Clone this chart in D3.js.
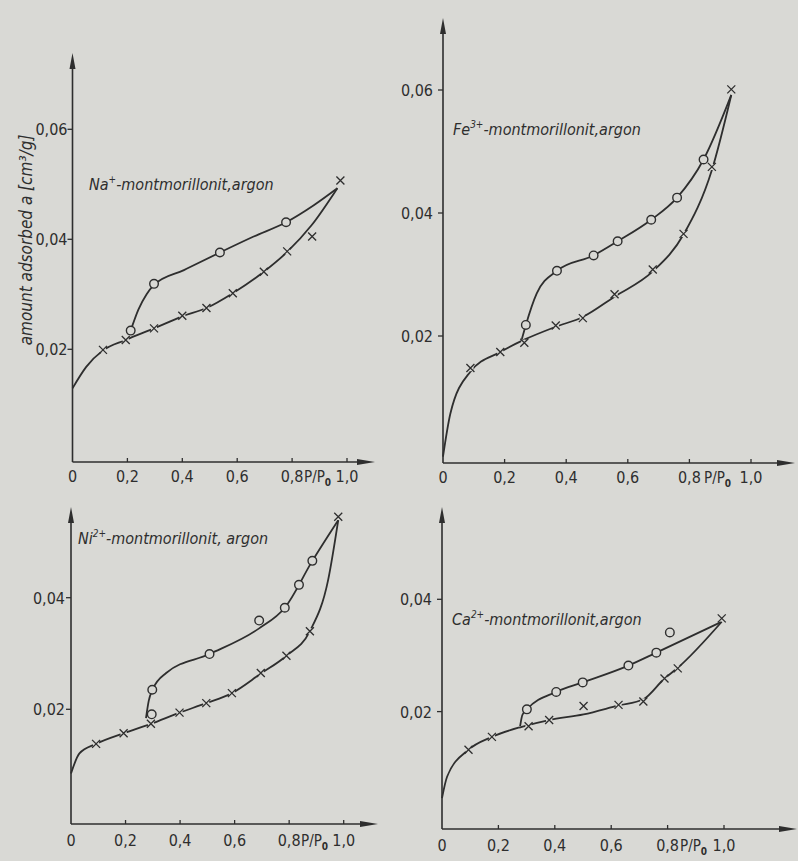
<!DOCTYPE html>
<html>
<head>
<meta charset="utf-8">
<script src="https://cdn.jsdelivr.net/npm/d3@7"></script>
<style>
  html, body { margin: 0; padding: 0; background: #d9d9d5; }
  svg { display: block; }
  text { font-family: "DejaVu Sans Condensed", "DejaVu Sans", sans-serif; fill: #2e2e2e; }
</style>
</head>
<body>
<script>
// ---------- data (P/P0, amount adsorbed a [cm3/g]) ----------
const xTicks = [0, 0.2, 0.4, 0.6, 0.8, 1.0];
const xTickLabels = ["0", "0,2", "0,4", "0,6", "0,8", "1,0"];
const yTicksTop = [0.02, 0.04, 0.06];
const yTicksBottom = [0.02, 0.04];
const yTickLabels = {0.02: "0,02", 0.04: "0,04", 0.06: "0,06"};
const yAxisTitle = "amount adsorbed a [cm³/g]";

// Na+ montmorillonite
const naIon = ["Na", "+", "-montmorillonit,argon"];
const naAdsMarkers = [[0.111,0.0199],[0.194,0.0217],[0.297,0.0238],[0.400,0.0261],[0.488,0.0275],[0.584,0.0302],[0.697,0.0341],[0.782,0.0378],[0.873,0.0405],[0.976,0.0507]];
const naDesMarkers = [[0.212,0.0234],[0.297,0.0319],[0.537,0.0376],[0.778,0.0431]];
const naAdsCurve = [[0,0.0129],[0.05,0.0168],[0.111,0.0198],[0.194,0.0217],[0.297,0.0238],[0.400,0.0260],[0.488,0.0275],[0.584,0.0302],[0.697,0.0341],[0.782,0.0377],[0.870,0.0425],[0.965,0.0493]];
const naDesCurve = [[0.212,0.0234],[0.240,0.0272],[0.270,0.0300],[0.297,0.0317],[0.406,0.0344],[0.537,0.0376],[0.660,0.0405],[0.778,0.0431],[0.879,0.0462],[0.965,0.0493]];

// Fe3+ montmorillonite
const feIon = ["Fe", "3+", "-montmorillonit,argon"];
const feAdsMarkers = [[0.089,0.0148],[0.186,0.0174],[0.264,0.0189],[0.366,0.0217],[0.454,0.0229],[0.557,0.0268],[0.681,0.0308],[0.781,0.0366],[0.873,0.0475],[0.936,0.0601]];
const feDesMarkers = [[0.269,0.0218],[0.370,0.0306],[0.489,0.0331],[0.567,0.0354],[0.676,0.0389],[0.760,0.0425],[0.846,0.0487]];
const feAdsCurve = [[0,0.0004],[0.024,0.0074],[0.089,0.0142],[0.186,0.0174],[0.264,0.0194],[0.366,0.0215],[0.454,0.0231],[0.557,0.0264],[0.681,0.0305],[0.781,0.0365],[0.873,0.0470],[0.936,0.0592]];
const feDesCurve = [[0.256,0.0195],[0.269,0.0218],[0.304,0.0269],[0.370,0.0306],[0.489,0.0331],[0.567,0.0354],[0.676,0.0389],[0.760,0.0425],[0.846,0.0487],[0.936,0.0592]];

// Ni2+ montmorillonite
const niIon = ["Ni", "2+", "-montmorillonit, argon"];
const niAdsMarkers = [[0.092,0.0138],[0.193,0.0157],[0.293,0.0174],[0.398,0.0194],[0.496,0.0211],[0.590,0.0229],[0.696,0.0265],[0.790,0.0296],[0.876,0.0340],[0.980,0.0545]];
const niDesMarkers = [[0.296,0.0191],[0.298,0.0235],[0.508,0.0299],[0.690,0.0359],[0.784,0.0382],[0.836,0.0423],[0.885,0.0466]];
const niAdsCurve = [[0,0.0085],[0.031,0.0121],[0.092,0.0138],[0.193,0.0157],[0.293,0.0174],[0.398,0.0194],[0.496,0.0211],[0.590,0.0229],[0.696,0.0264],[0.790,0.0296],[0.876,0.0340],[0.943,0.0432],[0.980,0.0539]];
const niDesCurve = [[0.275,0.0184],[0.285,0.0215],[0.300,0.0236],[0.349,0.0265],[0.508,0.0299],[0.690,0.0345],[0.784,0.0382],[0.885,0.0466],[0.980,0.0539]];

// Ca2+ montmorillonite
const caIon = ["Ca", "2+", "-montmorillonit,argon"];
const caAdsMarkers = [[0.094,0.0132],[0.177,0.0155],[0.307,0.0174],[0.380,0.0185],[0.502,0.0210],[0.626,0.0212],[0.714,0.0218],[0.789,0.0259],[0.836,0.0277],[0.992,0.0366]];
const caDesMarkers = [[0.301,0.0204],[0.405,0.0235],[0.499,0.0252],[0.661,0.0282],[0.760,0.0305],[0.808,0.0341]];
const caAdsCurve = [[0,0.0046],[0.018,0.0084],[0.094,0.0132],[0.177,0.0155],[0.283,0.0173],[0.380,0.0185],[0.502,0.0195],[0.626,0.0211],[0.714,0.0222],[0.789,0.0259],[0.836,0.0278],[0.992,0.0360]];
const caDesCurve = [[0.277,0.0174],[0.285,0.0194],[0.301,0.0204],[0.405,0.0235],[0.499,0.0252],[0.661,0.0282],[0.760,0.0305],[0.992,0.0360]];

// ---------- layout ----------
const W = 798, H = 861;
const INK = "#2e2e2e", BG = "#d9d9d5";

const panels = [
  { ion: naIon, ads: naAdsMarkers, des: naDesMarkers, adsC: naAdsCurve, desC: naDesCurve, yTicks: yTicksTop,
    x0: 72.5, x1: 347, yDom: [0, 0.06], yR: [459.3, 129.3], axisY: 462, yTop: 53, xEnd: 375,
    title: [89, 190], labelY: 482, ppX: 304, labGap: 5 },
  { ion: feIon, ads: feAdsMarkers, des: feDesMarkers, adsC: feAdsCurve, desC: feDesCurve, yTicks: yTicksTop,
    x0: 443, x1: 751, yDom: [0, 0.06], yR: [459, 90], axisY: 463, yTop: 18, xEnd: 795,
    title: [453, 135], labelY: 483, ppX: 704, labGap: 10 },
  { ion: niIon, ads: niAdsMarkers, des: niDesMarkers, adsC: niAdsCurve, desC: niDesCurve, yTicks: yTicksBottom,
    x0: 71, x1: 343.7, yDom: [0, 0.04], yR: [820.9, 597.7], axisY: 824, yTop: 507, xEnd: 378,
    title: [78, 544], labelY: 846, ppX: 301, labGap: 6 },
  { ion: caIon, ads: caAdsMarkers, des: caDesMarkers, adsC: caAdsCurve, desC: caDesCurve, yTicks: yTicksBottom,
    x0: 442, x1: 724, yDom: [0, 0.04], yR: [823.9, 599.3], axisY: 829, yTop: 507, xEnd: 797,
    title: [452, 625], labelY: 851, ppX: 680, labGap: 10 }
];

const svg = d3.select("body").append("svg").attr("width", W).attr("height", H);
svg.append("rect").attr("width", W).attr("height", H).attr("fill", BG);

panels.forEach(p => {
  const x = d3.scaleLinear().domain([0, 1]).range([p.x0, p.x1]);
  const y = d3.scaleLinear().domain(p.yDom).range(p.yR);
  const g = svg.append("g");

  // y axis with arrow
  g.append("line").attr("x1", p.x0).attr("x2", p.x0).attr("y1", p.axisY).attr("y2", p.yTop + 10)
    .attr("stroke", INK).attr("stroke-width", 1.6);
  g.append("path").attr("d", `M${p.x0},${p.yTop}L${p.x0 - 3},${p.yTop + 16}L${p.x0 + 3},${p.yTop + 16}Z`).attr("fill", INK);
  // x axis with arrow
  g.append("line").attr("x1", p.x0).attr("x2", p.xEnd - 10).attr("y1", p.axisY).attr("y2", p.axisY)
    .attr("stroke", INK).attr("stroke-width", 1.6);
  g.append("path").attr("d", `M${p.xEnd},${p.axisY}L${p.xEnd - 18},${p.axisY - 3}L${p.xEnd - 18},${p.axisY + 3}Z`).attr("fill", INK);

  // y ticks
  p.yTicks.forEach(t => {
    g.append("line").attr("x1", p.x0 - 5).attr("x2", p.x0).attr("y1", y(t)).attr("y2", y(t))
      .attr("stroke", INK).attr("stroke-width", 1.3);
    g.append("text").attr("x", p.x0 - p.labGap).attr("y", y(t) + 6).attr("text-anchor", "end")
      .attr("font-size", 16).text(yTickLabels[t]);
  });
  // x ticks
  xTicks.forEach((t, i) => {
    if (i > 0) g.append("line").attr("x1", x(t)).attr("x2", x(t)).attr("y1", p.axisY - 4).attr("y2", p.axisY)
      .attr("stroke", INK).attr("stroke-width", 1.3);
    g.append("text").attr("x", x(t)).attr("y", p.labelY).attr("text-anchor", "middle")
      .attr("font-size", 16).text(xTickLabels[i]);
  });
  // P/P0
  const pp = g.append("text").attr("x", p.ppX).attr("y", p.labelY).attr("font-size", 15);
  pp.append("tspan").text("P/P");
  pp.append("tspan").attr("font-size", 10).attr("dy", 4).attr("font-weight", "bold").text("0");

  // curves
  const line = d3.line().x(d => x(d[0])).y(d => y(d[1])).curve(d3.curveMonotoneX);
  [p.adsC, p.desC].forEach(c => {
    g.append("path").attr("d", line(c)).attr("fill", "none").attr("stroke", INK).attr("stroke-width", 1.8);
  });

  // adsorption markers (x)
  p.ads.forEach(d => {
    const cx = x(d[0]), cy = y(d[1]);
    g.append("circle").attr("cx", cx).attr("cy", cy).attr("r", 3.2).attr("fill", BG);
    g.append("path").attr("d", `M${cx-4},${cy-4}L${cx+4},${cy+4}M${cx-4},${cy+4}L${cx+4},${cy-4}`)
      .attr("stroke", INK).attr("stroke-width", 1.3);
  });
  // desorption markers (o)
  p.des.forEach(d => {
    g.append("circle").attr("cx", x(d[0])).attr("cy", y(d[1])).attr("r", 4.3)
      .attr("fill", BG).attr("stroke", INK).attr("stroke-width", 1.4);
  });

  // title
  const t = g.append("text").attr("x", p.title[0]).attr("y", p.title[1]).attr("font-size", 16)
    .attr("font-style", "italic");
  t.append("tspan").text(p.ion[0]);
  t.append("tspan").attr("font-size", 10).attr("dy", -7).text(p.ion[1]);
  t.append("tspan").attr("dy", 7).text(p.ion[2]);
});

// y axis title
svg.append("text").attr("transform", "translate(32,240) rotate(-90)").attr("text-anchor", "middle")
  .attr("font-size", 17).attr("font-style", "italic").text(yAxisTitle);
</script>
</body>
</html>
